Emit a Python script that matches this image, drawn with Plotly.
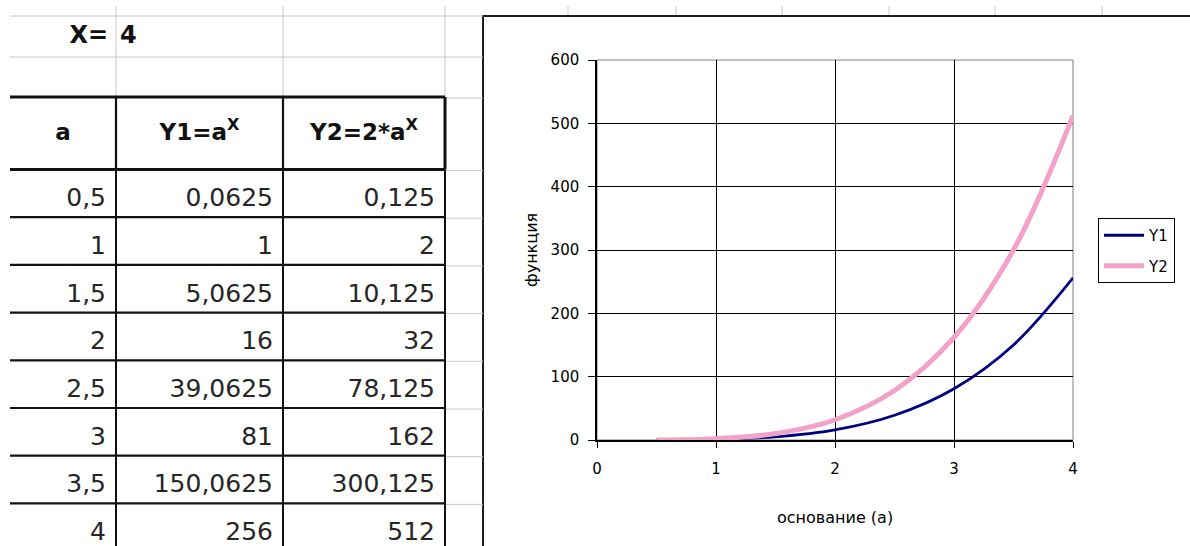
import plotly.graph_objects as go

# ---------------- data ----------------
a_vals = [0.5, 1, 1.5, 2, 2.5, 3, 3.5, 4]
y1_vals = [0.0625, 1, 5.0625, 16, 39.0625, 81, 150.0625, 256]
y2_vals = [0.125, 2, 10.125, 32, 78.125, 162, 300.125, 512]

a_labels = ["0,5", "1", "1,5", "2", "2,5", "3", "3,5", "4"]
y1_labels = ["0,0625", "1", "5,0625", "16", "39,0625", "81", "150,0625", "256"]
y2_labels = ["0,125", "2", "10,125", "32", "78,125", "162", "300,125", "512"]

param_label = "X="
param_value = "4"
table_headers = ["a", "Y1=a<sup>X</sup>", "Y2=2*a<sup>X</sup>"]
series_names = ["Y1", "Y2"]
x_tick_vals = [0, 1, 2, 3, 4]
y_tick_vals = [0, 100, 200, 300, 400, 500, 600]
x_title = "основание (а)"
y_title = "функция"

# ---------------- layout geometry (pixels) ----------------
W, H = 1190, 546
COL_EDGES = [10, 116, 283, 445]      # spreadsheet column borders
SHEET_ROW_EDGES = [16, 57, 97]       # rows above the table
HEADER_TOP, HEADER_BOTTOM = 97, 169.5
ROW_H = 47.7
CHART_LEFT, CHART_TOP = 483, 16
TEXT_PAD = 10
GRAY = "#c8c8c8"
TABLE_FONT = "DejaVu Sans, Arial, sans-serif"
CHART_FONT = "DejaVu Sans, Arial, sans-serif"


def px(x):
    return x / W


def py(y):
    return 1 - y / H


n_rows = len(a_labels)
row_tops = [HEADER_BOTTOM + i * ROW_H for i in range(n_rows)]
row_lines = [HEADER_BOTTOM + i * ROW_H for i in range(n_rows + 1)]

fig = go.Figure()

# ---------------- spreadsheet (left part, pixel axes x2/y2) ----------------
shapes = []


def seg(x0, y0, x1, y1, color, width, ref=("x2", "y2")):
    shapes.append(dict(type="line", xref=ref[0], yref=ref[1],
                       x0=x0, y0=y0, x1=x1, y1=y1,
                       line=dict(color=color, width=width), layer="below"))


# light sheet grid
for yy in SHEET_ROW_EDGES[:2]:
    seg(COL_EDGES[0], yy, CHART_LEFT, yy, GRAY, 1)
seg(COL_EDGES[-1], HEADER_TOP + 1, CHART_LEFT, HEADER_TOP + 1, GRAY, 1)
for yy in row_lines:
    seg(COL_EDGES[-1], yy + 1, CHART_LEFT, yy + 1, GRAY, 1)
for xx in COL_EDGES[1:]:
    seg(xx, 6, xx, HEADER_TOP, GRAY, 1)

# table borders
for yy in row_lines[1:]:
    seg(COL_EDGES[0], yy, COL_EDGES[-1], yy, "#111111", 2.2)
for xx in COL_EDGES[1:]:
    seg(xx, HEADER_BOTTOM, xx, H + 5, "#111111", 2)
# header box (thick)
seg(COL_EDGES[0], HEADER_TOP, COL_EDGES[-1], HEADER_TOP, "#111111", 3)
seg(COL_EDGES[0], HEADER_BOTTOM, COL_EDGES[-1], HEADER_BOTTOM, "#111111", 3)
for xx in COL_EDGES[1:]:
    seg(xx, HEADER_TOP, xx, HEADER_BOTTOM, "#111111", 3 if xx == COL_EDGES[-1] else 2.2)

# "X= 4" parameter cell
param_y = (SHEET_ROW_EDGES[0] + SHEET_ROW_EDGES[1]) / 2
fig.add_trace(go.Scatter(
    x=[COL_EDGES[1] - 8], y=[param_y], text=["<b>" + param_label + "</b>"],
    mode="text", textposition="middle left", xaxis="x2", yaxis="y2",
    textfont=dict(family=TABLE_FONT, size=24, color="#111111"),
    showlegend=False, hoverinfo="skip"))
fig.add_trace(go.Scatter(
    x=[COL_EDGES[1] + 4], y=[param_y], text=["<b>" + param_value + "</b>"],
    mode="text", textposition="middle right", xaxis="x2", yaxis="y2",
    textfont=dict(family=TABLE_FONT, size=24, color="#111111"),
    showlegend=False, hoverinfo="skip"))

# header texts
fig.add_trace(go.Scatter(
    x=[(COL_EDGES[i] + COL_EDGES[i + 1]) / 2 for i in range(3)],
    y=[(HEADER_TOP + HEADER_BOTTOM) / 2 + 1] * 3,
    text=["<b>" + h + "</b>" for h in table_headers],
    mode="text", textposition="middle center", xaxis="x2", yaxis="y2",
    textfont=dict(family=TABLE_FONT, size=23, color="#111111"),
    showlegend=False, hoverinfo="skip"))

# data cells, right aligned, bottom-ish like Excel
for ci, col in enumerate([a_labels, y1_labels, y2_labels]):
    fig.add_trace(go.Scatter(
        x=[COL_EDGES[ci + 1] - TEXT_PAD] * n_rows,
        y=[t + 30.5 for t in row_tops],
        text=col, mode="text", textposition="middle left",
        xaxis="x2", yaxis="y2",
        textfont=dict(family=TABLE_FONT, size=25, color="#262626"),
        showlegend=False, hoverinfo="skip"))

# ---------------- chart ----------------
line_styles = [dict(color="#000080", width=2.8, shape="spline"),
               dict(color="#f2a2c8", width=5, shape="spline")]
for name, yv, st in zip(series_names, [y1_vals, y2_vals], line_styles):
    fig.add_trace(go.Scatter(
        x=a_vals, y=yv, mode="lines", name=name, line=st,
        legendgroup=name, xaxis="x", yaxis="y", hoverinfo="x+y+name",
    ))

# sheet column lines visible above the chart object
for xx in [568, 676, 782, 889, 995, 1102]:
    shapes.append(dict(type="line", xref="paper", yref="paper",
                       x0=px(xx), x1=px(xx), y0=py(6), y1=py(CHART_TOP),
                       line=dict(color=GRAY, width=1), layer="below"))
# chart object frame
shapes.append(dict(type="rect", xref="paper", yref="paper",
                   x0=px(CHART_LEFT), x1=px(1210), y0=py(570), y1=py(CHART_TOP),
                   line=dict(color="#1e1e1e", width=2), fillcolor="white",
                   layer="below"))
# plot-area border (gray)
shapes.append(dict(type="rect", xref="x domain", yref="y domain",
                   x0=0, x1=1, y0=0, y1=1,
                   line=dict(color="#808080", width=1), layer="below"))

annotations = [
    dict(text=x_title, xref="x domain", yref="paper", x=0.5, y=py(517),
         xanchor="center", yanchor="middle", showarrow=False,
         font=dict(family=CHART_FONT, size=16, color="black")),
    dict(text=y_title, xref="paper", yref="y domain", x=px(531), y=0.5,
         xanchor="center", yanchor="middle", showarrow=False, textangle=-90,
         font=dict(family=CHART_FONT, size=16, color="black")),
]

fig.update_layout(
    width=W, height=H,
    margin=dict(l=0, r=0, t=0, b=0),
    paper_bgcolor="white",
    plot_bgcolor="white",
    font=dict(family=CHART_FONT, size=15, color="black"),
    shapes=shapes,
    annotations=annotations,
    showlegend=True,
    legend=dict(
        x=px(1098), y=py(218), xanchor="left", yanchor="top",
        bgcolor="white", bordercolor="black", borderwidth=1,
        font=dict(family=CHART_FONT, size=15, color="black"),
        itemwidth=40, tracegroupgap=8,
    ),
    xaxis=dict(
        domain=[px(597), px(1073)], range=[0, 4],
        tickvals=x_tick_vals, ticktext=[str(v) for v in x_tick_vals],
        tickfont=dict(family=CHART_FONT, size=15, color="black"),
        showgrid=True, gridcolor="black", gridwidth=1,
        showline=True, linecolor="black", linewidth=1.5,
        ticks="outside", ticklen=6, tickcolor="black", tickwidth=1,
        ticklabelstandoff=8,
        zeroline=False, automargin=False, fixedrange=True, anchor="y",
    ),
    yaxis=dict(
        domain=[py(440), py(60)], range=[0, 600],
        tickvals=y_tick_vals, ticktext=[str(v) for v in y_tick_vals],
        tickfont=dict(family=CHART_FONT, size=15, color="black"),
        showgrid=True, gridcolor="black", gridwidth=1,
        showline=True, linecolor="black", linewidth=1.5,
        ticks="outside", ticklen=7, tickcolor="black", tickwidth=1,
        ticklabelstandoff=6,
        zeroline=False, automargin=False, fixedrange=True, anchor="x",
    ),
    xaxis2=dict(domain=[0, px(CHART_LEFT)], range=[0, CHART_LEFT],
                visible=False, fixedrange=True, anchor="y2"),
    yaxis2=dict(domain=[0, 1], range=[H, 0],
                visible=False, fixedrange=True, anchor="x2"),
)

fig.write_html("out.html")
